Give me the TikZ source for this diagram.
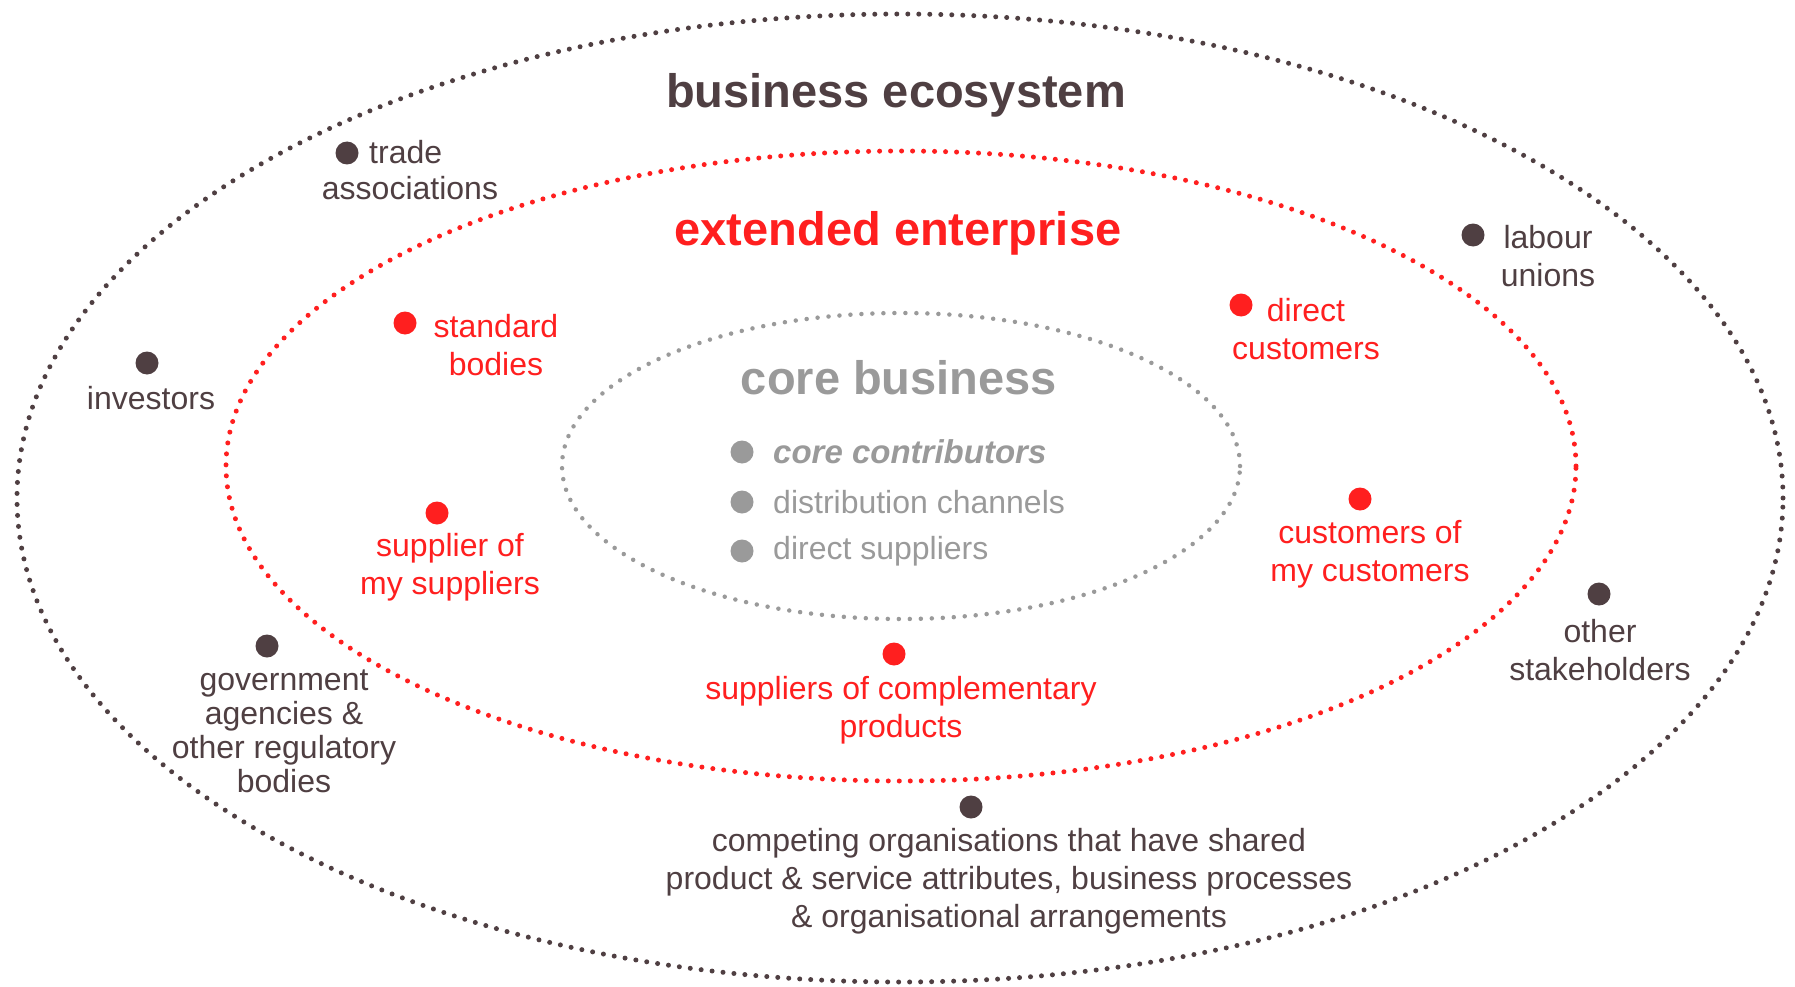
\documentclass[tikz,border=0pt]{standalone}
\usepackage{fontspec}
\setmainfont{Liberation Sans}
\definecolor{ecodark}{HTML}{4F3F42}
\definecolor{ecored}{HTML}{FF1F1F}
\definecolor{ecogray}{HTML}{9A9A9A}
\begin{document}
\begin{tikzpicture}
[x=1pt,y=-1pt,
  ringdecorate/.style={line width=5pt,line cap=round,dash pattern=on 0pt off 11pt},%
  dotdecorate/.style={shape=circle,inner sep=0pt,minimum size=23pt},%
  labeldecorate/.style={align=center,inner sep=0pt,font=\fontsize{32}{38}\selectfont},%
  titledecorate/.style={inner sep=0pt,font=\fontsize{47}{56}\selectfont\bfseries}]
\useasboundingbox (0,0) rectangle (1795,987);
%% rings
\draw[ringdecorate,draw=ecodark] (900,498) ellipse [x radius=883pt, y radius=484pt];
\draw[ringdecorate,draw=ecored] (901,466) ellipse [x radius=675pt, y radius=315pt];
\draw[ringdecorate,draw=ecogray,line width=4.5pt] (901,466) ellipse [x radius=339pt, y radius=153pt];
%% titles
\node (ecosystem) at (896,95) [titledecorate,text=ecodark] {business ecosystem};
\node (enterprise) at (898,233) [titledecorate,text=ecored] {extended enterprise};
\node (core) at (899,378) [titledecorate,text=ecogray] {core business};
%% dots and labels
\foreach \nodename/\x/\y/\lx/\ly/\col/\txt in {investors/147/363/151/398/ecodark/{investors},
  labour/1473/235/1548/256/ecodark/{labour\\unions},
  standard/405/323/496/345/ecored/{standard\\bodies},
  direct/1241/305/1306/329/ecored/{direct\\customers},
  supplier/437/513/450/567/ecored/{supplier of\\my suppliers},
  customers/1360/499/1370/554/ecored/{customers of\\my customers},
  complementary/894/654/901/710/ecored/{suppliers of complementary\\products},
  government/267/646/284/731/ecodark/{government\\[-4pt]agencies \&\\[-4pt]other regulatory\\[-4pt]bodies},
  other/1599/594/1600/650/ecodark/{other\\stakeholders},
  competing/971/807/1009/881/ecodark/{competing organisations that have shared\\product \& service attributes, business processes\\\& organisational arrangements}} {
  \node (\nodename) at (\x,\y) [dotdecorate,fill=\col] {};
  \node (\nodename label) at (\lx,\ly) [labeldecorate,text=\col] {\txt};
}
\node (trade) at (347,153) [dotdecorate,fill=ecodark] {};
\node (trade label) at (369,152) [labeldecorate,anchor=west,text=ecodark] {trade};
\node (associations label) at (410,188) [labeldecorate,text=ecodark] {associations};
%% core contributors
\foreach \nodename/\y/\txt in {contributors/452/{\fontsize{33}{38}\selectfont\bfseries\itshape core contributors},
  channels/502/{distribution channels}, suppliers/551/{direct suppliers}} {
  \node (\nodename) at (742,\y) [dotdecorate,fill=ecogray] {};
  \node (\nodename label) at (773,\y) [labeldecorate,anchor=west,text=ecogray] {\txt};
}
\end{tikzpicture}
\end{document}
